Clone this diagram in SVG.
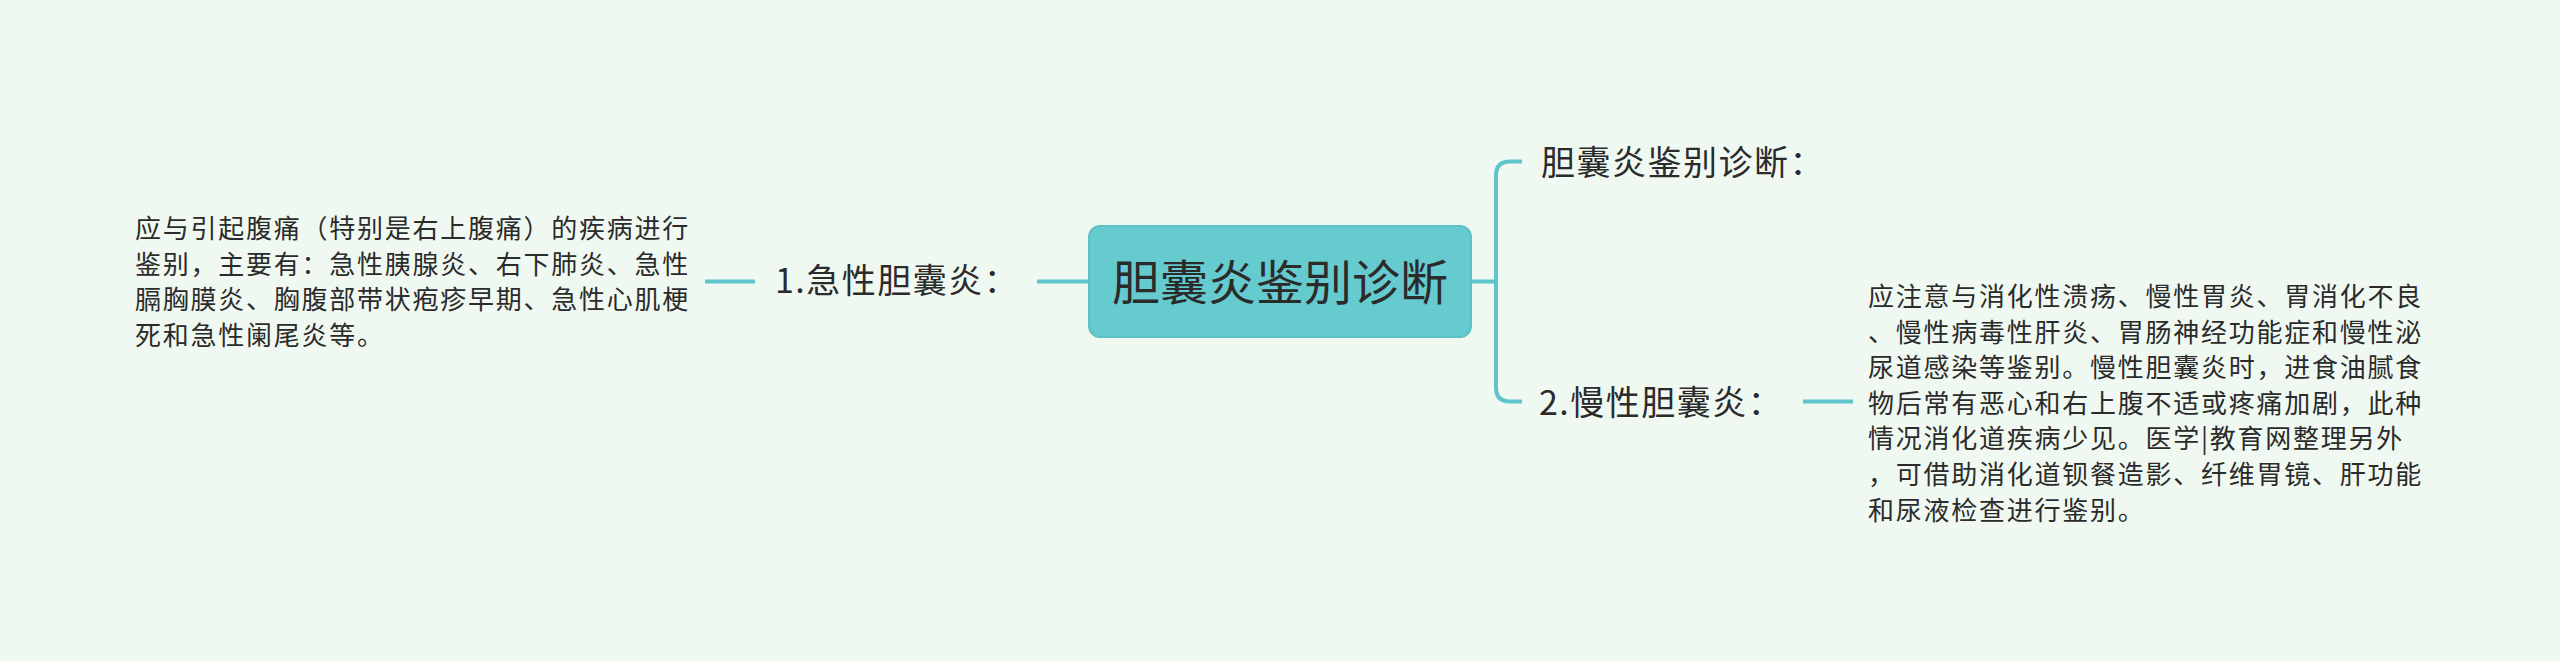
<svg xmlns="http://www.w3.org/2000/svg" width="2560" height="661" viewBox="0 0 2560 661">
<style>
.conn{fill:none;stroke:#5EC5CA;stroke-width:4;stroke-linecap:butt}
.t{font-family:"Noto Sans CJK SC","Noto Sans",sans-serif;fill:#2b2b2b}
.root{font-size:48px}
.l1{font-size:34px;letter-spacing:1.5px}
.leaf{font-size:26px;letter-spacing:1.75px}
</style>
<rect width="2560" height="661" fill="#F0F9F1"/>
<g id="connectors">
<path class="conn" d="M1089,281.5 H1037"/>
<path class="conn" d="M755,281.5 H705"/>
<path class="conn" d="M1471,281.5 H1496"/>
<path class="conn" d="M1522,161.5 H1510 Q1496,161.5 1496,175.5 V387.5 Q1496,401.5 1510,401.5 H1522"/>
<path class="conn" d="M1803,401.5 H1853"/>
</g>
<g id="root">
<rect x="1089" y="226" width="382" height="111" rx="11" fill="#66CBCE" stroke="#5DC0C4" stroke-width="2"/>
<text class="t root" x="1280" y="300" text-anchor="middle">胆囊炎鉴别诊断</text>
</g>
<g id="node-acute">
<text class="t l1" x="775" y="293">1.急性胆囊炎：</text>
</g>
<g id="node-acute-detail">
<text class="t leaf" x="135" y="238">应与引起腹痛（特别是右上腹痛）的疾病进行</text>
<text class="t leaf" x="135" y="273.6">鉴别，主要有：急性胰腺炎、右下肺炎、急性</text>
<text class="t leaf" x="135" y="309.2">膈胸膜炎、胸腹部带状疱疹早期、急性心肌梗</text>
<text class="t leaf" x="135" y="344.8">死和急性阑尾炎等。</text>
</g>
<g id="node-title">
<text class="t l1" x="1541" y="175">胆囊炎鉴别诊断：</text>
</g>
<g id="node-chronic">
<text class="t l1" x="1539" y="415">2.慢性胆囊炎：</text>
</g>
<g id="node-chronic-detail">
<text class="t leaf" x="1868" y="306">应注意与消化性溃疡、慢性胃炎、胃消化不良</text>
<text class="t leaf" x="1868" y="341.6">、慢性病毒性肝炎、胃肠神经功能症和慢性泌</text>
<text class="t leaf" x="1868" y="377.2">尿道感染等鉴别。慢性胆囊炎时，进食油腻食</text>
<text class="t leaf" x="1868" y="412.8">物后常有恶心和右上腹不适或疼痛加剧，此种</text>
<text class="t leaf" x="1868" y="448.4">情况消化道疾病少见。医学|教育网整理另外</text>
<text class="t leaf" x="1868" y="484">，可借助消化道钡餐造影、纤维胃镜、肝功能</text>
<text class="t leaf" x="1868" y="519.6">和尿液检查进行鉴别。</text>
</g>
</svg>
